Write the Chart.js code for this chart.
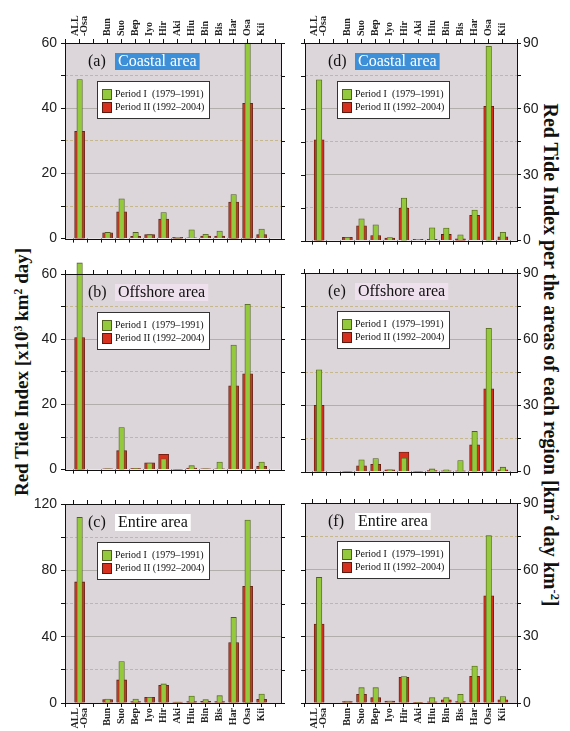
<!DOCTYPE html>
<html>
<head>
<meta charset="utf-8">
<script src="https://cdn.jsdelivr.net/npm/chart.js@4/dist/chart.umd.min.js"></script>
<style>
  body { margin: 0; background: #fff; }
  #page { position: relative; width: 570px; height: 731px; overflow: hidden; }
  canvas { position: absolute; }
  .ytitle { position: absolute; font: bold 19px 'Liberation Serif', serif; white-space: nowrap; color: #111; line-height: 22px; }
  .ytitle sup { font-size: 0.62em; vertical-align: 0.55em; line-height: 0; }
  #rightTitle { font-size: 20px; }
</style>
</head>
<body>
<div id="page">
  <div class="ytitle" id="leftTitle">Red Tide Index [x10<sup>3</sup> km<sup>2</sup> day]</div>
  <div class="ytitle" id="rightTitle">Red Tide Index per the areas of each region [km<sup>2</sup> day km<sup>-2</sup>]</div>
</div>
<script>
// regions (index 1 is the empty slot between ALL-Osa and Bun)
const regions = [['ALL', '-Osa'], '', 'Bun', 'Suo', 'Bep', 'Iyo', 'Hir', 'Aki', 'Hiu', 'Bin', 'Bis', 'Har', 'Osa', 'Kii'];
const periodLabels = ['Period I  (1979\u20131991)', 'Period II (1992\u20132004)'];

// Red Tide Index [x10^3 km2 day]
const coastalP1  = [48.8, null, 1.9, 12.2, 1.9, 1.2, 8.0, 0.4, 2.7, 1.3, 2.3, 13.5, 60.0, 2.9];
const coastalP2  = [32.9, null, 1.8, 8.2, 0.7, 1.2, 6.0, 0.4, 0.2, 0.8, 0.8, 11.2, 41.5, 1.2];
const offshoreP1 = [63.4, null, 0.2, 12.9, 0.3, 2.0, 3.3, 0.1, 1.2, 0.2, 2.3, 38.2, 50.7, 2.3];
const offshoreP2 = [40.5, null, 0.2, 5.8, 0.3, 2.1, 4.7, 0.1, 0.5, 0.2, 0.2, 25.7, 29.4, 1.0];
const entireP1   = [111.9, null, 2.4, 25.0, 2.4, 3.4, 11.5, 0.6, 4.2, 2.0, 4.4, 51.6, 110.3, 5.4];
const entireP2   = [73.0, null, 2.0, 13.9, 0.8, 3.4, 10.7, 0.6, 0.8, 1.0, 0.8, 36.5, 70.4, 2.2];

// per area of each region [km2 day km-2]
const coastalAreaP1  = [73.2, null, 1.5, 9.9, 7.2, 1.4, 19.4, 0.6, 5.8, 5.7, 2.6, 13.9, 88.5, 3.8];
const coastalAreaP2  = [45.9, null, 1.5, 6.7, 2.3, 1.2, 14.8, 0.6, 0.6, 2.8, 0.8, 11.5, 61.2, 1.7];
const offshoreAreaP1 = [46.1, null, 0.2, 5.3, 5.9, 0.8, 6.1, 0.2, 1.2, 0.8, 5.0, 18.2, 64.9, 2.0];
const offshoreAreaP2 = [30.0, null, 0.2, 2.6, 3.3, 0.8, 8.9, 0.2, 0.5, 0.3, 0.3, 12.1, 37.5, 0.8];
const entireAreaP1   = [56.5, null, 0.9, 6.9, 6.9, 0.9, 11.9, 0.3, 2.4, 2.4, 3.9, 16.6, 75.3, 2.9];
const entireAreaP2   = [35.5, null, 0.6, 3.9, 2.4, 0.9, 11.6, 0.3, 0.5, 1.4, 0.6, 12.0, 48.2, 1.4];

// y tick labels
const ticksTotal   = [0, 20, 40, 60];
const ticksEntire  = [0, 40, 80, 120];
const ticksPerArea = [0, 30, 60, 90];

const plotBg = '#dcd6da';
const greenFill = '#95c93d', greenLine = '#4f5e1c';
const redFill = '#d6301f', redLine = '#5c1a10';

const panels = [
  { tag: '(a)', title: 'Coastal area',  p1: coastalP1,  p2: coastalP2,  yt: ticksTotal,  side: 'left',  xlab: 'top',    area: [65, 43, 281, 241],  tbg: '#3d8fd8', tfg: '#fff' },
  { tag: '(b)', title: 'Offshore area', p1: offshoreP1, p2: offshoreP2, yt: ticksTotal,  side: 'left',  xlab: 'none',   area: [65, 274, 281, 472], tbg: '#eee0ec', tfg: '#111' },
  { tag: '(c)', title: 'Entire area',   p1: entireP1,   p2: entireP2,   yt: ticksEntire, side: 'left',  xlab: 'bottom', area: [65, 504, 281, 703], tbg: '#ffffff', tfg: '#111' },
  { tag: '(d)', title: 'Coastal area',  p1: coastalAreaP1,  p2: coastalAreaP2,  yt: ticksPerArea, side: 'right', xlab: 'top',    area: [305, 43, 517, 241],  tbg: '#3d8fd8', tfg: '#fff' },
  { tag: '(e)', title: 'Offshore area', p1: offshoreAreaP1, p2: offshoreAreaP2, yt: ticksPerArea, side: 'right', xlab: 'none',   area: [305, 273, 517, 472], tbg: '#eee0ec', tfg: '#111' },
  { tag: '(f)', title: 'Entire area',   p1: entireAreaP1,   p2: entireAreaP2,   yt: ticksPerArea, side: 'right', xlab: 'bottom', area: [305, 503, 517, 703], tbg: '#ffffff', tfg: '#111' }
];

function isMult(v, step) {
  const r = v / step;
  return Math.abs(r - Math.round(r)) < 1e-6;
}

const panelDeco = {
  id: 'panelDeco',
  beforeDraw(chart) {
    const a = chart.chartArea, ctx = chart.ctx;
    ctx.save();
    ctx.fillStyle = plotBg;
    ctx.fillRect(a.left, a.top, a.right - a.left, a.bottom - a.top);
    ctx.restore();
  },
  afterDatasetsDraw(chart, args, opts) {
    const a = chart.chartArea, ctx = chart.ctx;
    ctx.save();
    ctx.textBaseline = 'middle';
    ctx.font = '16px "Liberation Serif"';
    const cy = a.top + 19;
    ctx.fillStyle = '#111';
    ctx.fillText(opts.tag, a.left + 23, cy);
    const tw = ctx.measureText(opts.title).width;
    const bx = a.left + 53;
    ctx.fillStyle = opts.tbg;
    ctx.fillRect(bx - 3, cy - 9, tw + 6, 17);
    ctx.fillStyle = opts.tfg;
    ctx.fillText(opts.title, bx, cy);

    // legend box
    const lx = a.left + 32, ly = a.top + 38;
    ctx.fillStyle = '#fff';
    ctx.fillRect(lx, ly, 112, 37);
    ctx.strokeStyle = '#333';
    ctx.lineWidth = 1;
    ctx.strokeRect(lx + 0.5, ly + 0.5, 112, 37);
    ctx.font = '10px "Liberation Serif"';
    chart.data.datasets.forEach((ds, i) => {
      const y = ly + 13 + i * 13;
      ctx.fillStyle = ds.backgroundColor;
      ctx.fillRect(lx + 5, y - 5, 9, 10);
      ctx.strokeStyle = ds.borderColor;
      ctx.strokeRect(lx + 5.5, y - 4.5, 9, 10);
      ctx.fillStyle = '#111';
      ctx.fillText(ds.label, lx + 18, y + 0.5);
    });
    ctx.restore();
  },
  afterDraw(chart, args, opts) {
    const a = chart.chartArea, ctx = chart.ctx;
    const xs = chart.scales.x, ys = chart.scales.y;
    ctx.save();
    ctx.strokeStyle = '#111';
    ctx.lineWidth = 1;
    ctx.strokeRect(Math.round(a.left) + 0.5, Math.round(a.top) + 0.5, Math.round(a.right - a.left), Math.round(a.bottom - a.top));
    ctx.beginPath();
    // y ticks mirrored on the other side
    ys.ticks.forEach(t => {
      const y = Math.round(ys.getPixelForValue(t.value)) + 0.5;
      if (opts.side === 'left') { ctx.moveTo(a.right, y); ctx.lineTo(a.right + 4, y); }
      else { ctx.moveTo(a.left - 4, y); ctx.lineTo(a.left, y); }
    });
    // x ticks mirrored on the other side
    for (let i = -1; i < regions.length; i++) {
      const x = Math.round(xs.getPixelForValue(i + 0.5)) + 0.5;
      if (x < a.left || x > a.right) continue;
      if (opts.xlab === 'bottom') { ctx.moveTo(x, a.top - 4); ctx.lineTo(x, a.top); }
      else { ctx.moveTo(x, a.bottom); ctx.lineTo(x, a.bottom + 4); }
    }
    ctx.stroke();

    // region names, rotated, placed on the x scale
    if (opts.xlab !== 'none') {
      ctx.font = 'bold 10px "Liberation Serif"';
      ctx.fillStyle = '#222';
      ctx.textBaseline = 'middle';
      regions.forEach((lab, i) => {
        if (!lab) return;
        const lines = Array.isArray(lab) ? lab : [lab];
        const x = xs.getPixelForValue(i);
        ctx.save();
        if (opts.xlab === 'top') {
          ctx.translate(x, a.top - 7);
          ctx.textAlign = 'left';
        } else {
          ctx.translate(x, a.bottom + 5);
          ctx.textAlign = 'right';
        }
        ctx.rotate(-Math.PI / 2);
        lines.forEach((ln, k) => {
          ctx.fillText(ln, 0, (k - (lines.length - 1) / 2) * 9);
        });
        ctx.restore();
      });
    }
    ctx.restore();
  }
};

const page = document.getElementById('page');

panels.forEach(p => {
  const [al, at, ar, ab] = p.area;
  const left = p.side === 'left';
  const cL = left ? 0 : 290;
  const cR = left ? 289 : 547;
  const cT = p.xlab === 'top' ? 0 : at - 14;
  const cB = p.xlab === 'bottom' ? 731 : ab + 10;
  const yW = left ? 62 : 28;
  const xH = p.xlab === 'top' ? 43 : (p.xlab === 'bottom' ? 28 : 4);
  const pad = {
    left: left ? al - cL - yW : al - cL,
    right: left ? cR - ar : cR - ar - yW,
    top: p.xlab === 'bottom' ? at - cT : at - cT - xH,
    bottom: p.xlab === 'bottom' ? cB - ab - xH : cB - ab
  };

  const canvas = document.createElement('canvas');
  canvas.width = cR - cL;
  canvas.height = cB - cT;
  canvas.style.left = cL + 'px';
  canvas.style.top = cT + 'px';
  page.appendChild(canvas);

  const yMax = p.yt[p.yt.length - 1];
  const major = p.yt[1];
  const gridStep = major / 2;
  const minor = major / 4;
  const xMin = left ? -0.53 : -0.5;
  const xMax = left ? 13.87 : 13.5;

  const toPts = arr => arr.map((v, i) => ({ x: i, y: v })).filter(d => d.y !== null);

  new Chart(canvas, {
    type: 'bar',
    data: {
      datasets: [
        { label: periodLabels[0], data: toPts(p.p1), backgroundColor: greenFill, borderColor: greenLine, borderWidth: 0.8,
          barThickness: 5.5, grouped: false, clip: false, order: 0 },
        { label: periodLabels[1], data: toPts(p.p2), backgroundColor: redFill, borderColor: redLine, borderWidth: 0.8,
          barThickness: 10, grouped: false, clip: false, order: 1 }
      ]
    },
    options: {
      responsive: false,
      animation: false,
      devicePixelRatio: 1,
      layout: { padding: pad },
      plugins: {
        legend: { display: false },
        tooltip: { enabled: false },
        panelDeco: { tag: p.tag, title: p.title, tbg: p.tbg, tfg: p.tfg, side: p.side, xlab: p.xlab }
      },
      scales: {
        x: {
          type: 'linear',
          position: p.xlab === 'bottom' ? 'bottom' : 'top',
          min: xMin,
          max: xMax,
          afterBuildTicks: s => {
            const t = [];
            for (let i = -0.5; i <= 13.5; i += 1) t.push({ value: i });
            s.ticks = t;
          },
          afterFit: s => { s.height = xH; },
          grid: {
            drawOnChartArea: false,
            tickLength: 4,
            tickColor: '#111'
          },
          border: { display: false },
          ticks: { display: false }
        },
        y: {
          position: p.side,
          min: 0,
          max: yMax,
          afterFit: s => { s.width = yW; },
          grid: {
            color: c => {
              const v = c.tick ? c.tick.value : 0;
              if (v === 0 || v === yMax) return 'rgba(0,0,0,0)';
              if (isMult(v, major)) return 'rgba(150,146,140,0.6)';
              if (isMult(v, gridStep)) return 'rgba(185,168,100,0.65)';
              return 'rgba(0,0,0,0)';
            },
            tickColor: '#111',
            tickLength: 4
          },
          border: {
            display: false,
            dash: c => (c.tick && isMult(c.tick.value, major)) ? [] : [3, 2]
          },
          ticks: {
            stepSize: minor,
            padding: left ? 4 : 2,
            color: '#222',
            font: { family: 'Liberation Sans', size: 14 },
            callback: v => isMult(v, major) ? v : ''
          }
        }
      }
    },
    plugins: [panelDeco]
  });
});

function placeTitle(id, cx, cy, deg) {
  const el = document.getElementById(id);
  el.style.left = cx + 'px';
  el.style.top = cy + 'px';
  el.style.transform = 'translate(-50%, -50%) rotate(' + deg + 'deg)';
}
placeTitle('leftTitle', 22, 372, -90);
placeTitle('rightTitle', 551, 355, 90);
</script>
</body>
</html>
